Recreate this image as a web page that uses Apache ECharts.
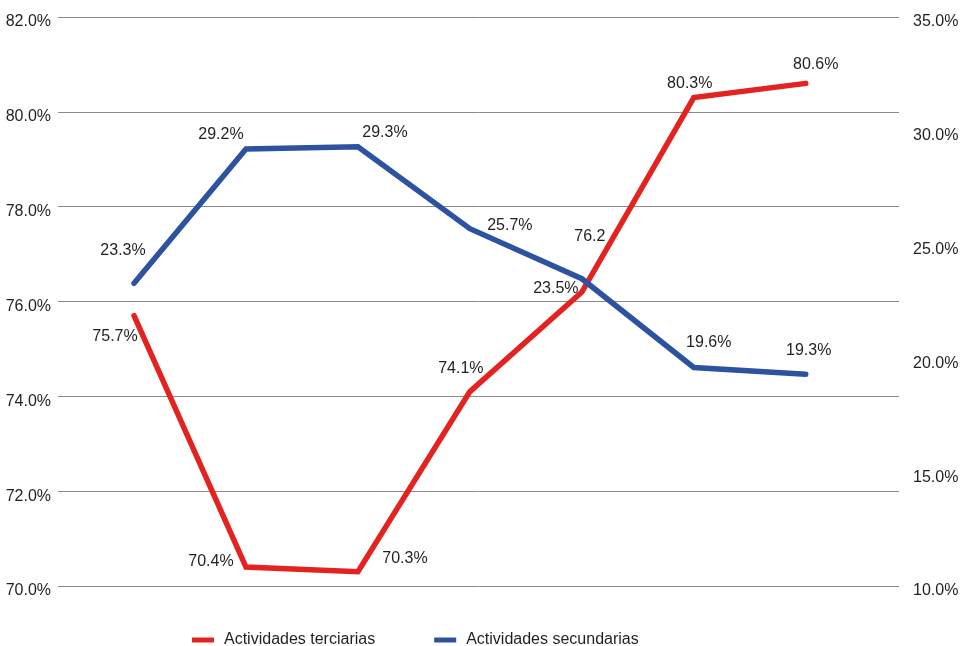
<!DOCTYPE html>
<html>
<head>
<meta charset="utf-8">
<script src="https://cdn.jsdelivr.net/npm/echarts@6/dist/echarts.min.js"></script>
<style>
html,body{margin:0;padding:0;background:#fff;}
#chart{width:970px;height:646px;}
</style>
</head>
<body>
<div id="chart"></div>
<script>
// Data
const periods = ['1', '2', '3', '4', '5', '6', '7'];
const terciarias = [75.7, 70.4, 70.3, 74.1, 76.2, 80.3, 80.6];
const secundarias = [23.3, 29.2, 29.3, 25.7, 23.5, 19.6, 19.3];
const terciariasLabels = ['75.7%', '70.4%', '70.3%', '74.1%', '76.2', '80.3%', '80.6%'];
const secundariasLabels = ['23.3%', '29.2%', '29.3%', '25.7%', '23.5%', '19.6%', '19.3%'];
const leftTicks = [70, 72, 74, 76, 78, 80, 82];
const rightTicks = [10, 15, 20, 25, 30, 35];
const seriesNames = ['Actividades terciarias', 'Actividades secundarias'];

// Styling (label offsets relative to points)
const redOffsets = [[-19, 21], [-35, -5], [47, -13], [-9, -23], [8, -55], [-4, -14], [10, -19]];
const blueOffsets = [[-11, -33], [-25, -14], [27, -14], [40, -3], [-26, 10], [15, -25], [3, -24]];

const FONT = '"Liberation Sans Narrow", "Liberation Sans", Arial, sans-serif';
const FS = 16;
const TXT = '#231f20';

function buildData(vals, labels, offsets) {
  return vals.map((v, i) => ({
    value: [i, v],
    name: periods[i],
    label: { formatter: labels[i], offset: offsets[i] }
  }));
}

const chart = echarts.init(document.getElementById('chart'));
chart.setOption({
  animation: false,
  grid: { left: 58, right: 71, top: 17, bottom: 60, containLabel: false },
  legend: {
    left: 187, top: 627,
    icon: 'rect', itemWidth: 22, itemHeight: 5, itemGap: 59,
    textStyle: { fontFamily: FONT, fontSize: FS, color: TXT, padding: [0, 0, 0, 5] },
    data: seriesNames
  },
  xAxis: {
    type: 'value', min: -0.679, max: 6.833, show: false
  },
  yAxis: [
    {
      type: 'value', min: leftTicks[0], max: leftTicks[leftTicks.length - 1], interval: 2,
      position: 'left',
      axisLine: { show: false }, axisTick: { show: false },
      splitLine: { show: true, lineStyle: { color: '#8a8a8a', width: 1 } },
      axisLabel: { margin: 7, fontFamily: FONT, fontSize: FS, color: TXT,
        verticalAlign: 'top', lineHeight: 10,
        formatter: v => v.toFixed(1) + '%' }
    },
    {
      type: 'value', min: rightTicks[0], max: rightTicks[rightTicks.length - 1], interval: 5,
      position: 'right',
      axisLine: { show: false }, axisTick: { show: false },
      splitLine: { show: false },
      axisLabel: { margin: 14, fontFamily: FONT, fontSize: FS, color: TXT,
        verticalAlign: 'top', lineHeight: 10,
        formatter: v => v.toFixed(1) + '%' }
    }
  ],
  series: [
    {
      name: seriesNames[0], type: 'line', yAxisIndex: 0,
      symbol: 'circle', symbolSize: 1,
      itemStyle: { color: '#e42320' },
      lineStyle: { color: '#e42320', width: 5.5, cap: 'round', join: 'miter' },
      label: { show: true, position: 'inside', fontFamily: FONT, fontSize: FS, color: TXT },
      data: buildData(terciarias, terciariasLabels, redOffsets)
    },
    {
      name: seriesNames[1], type: 'line', yAxisIndex: 1,
      symbol: 'circle', symbolSize: 1,
      itemStyle: { color: '#2d52a0' },
      lineStyle: { color: '#2d52a0', width: 5.5, cap: 'round', join: 'miter' },
      label: { show: true, position: 'inside', fontFamily: FONT, fontSize: FS, color: TXT },
      data: buildData(secundarias, secundariasLabels, blueOffsets)
    }
  ]
});
</script>
</body>
</html>
